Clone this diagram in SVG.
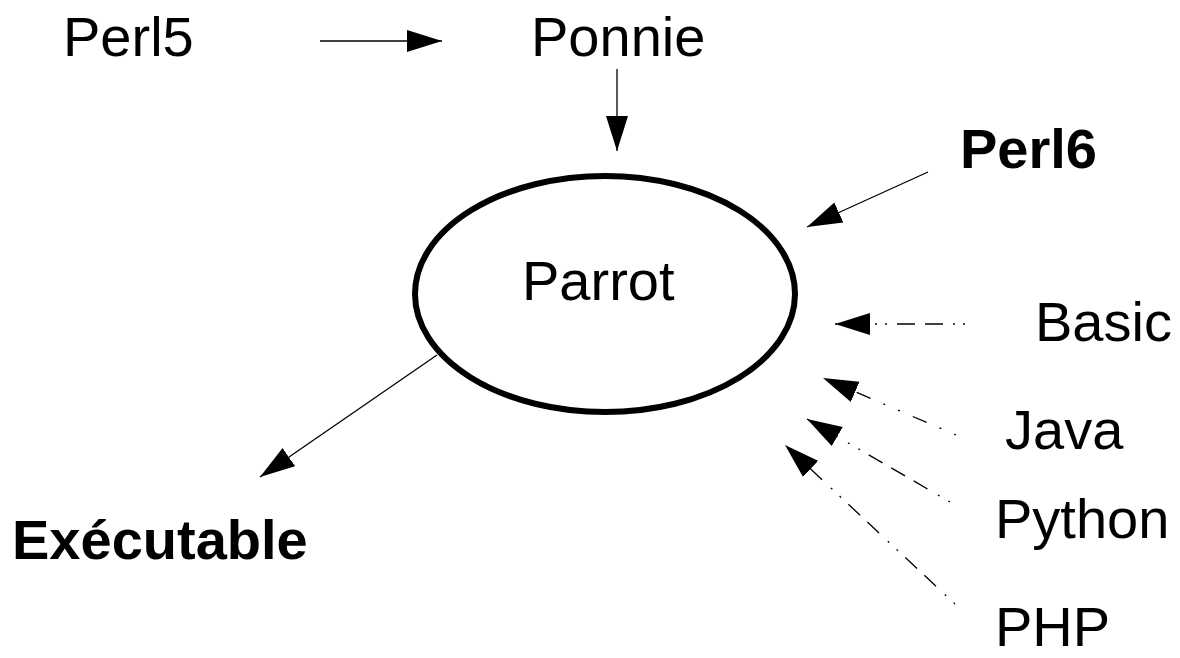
<svg xmlns="http://www.w3.org/2000/svg" width="1180" height="658" viewBox="0 0 1180 658">
<style>
text{font-family:"Liberation Sans",Arial,sans-serif;font-size:56px;fill:#000}
.b{font-weight:bold}
.c{stroke:#000;stroke-width:1.3;fill:none}
</style>
<defs>
<marker id="ah" markerUnits="userSpaceOnUse" markerWidth="36" markerHeight="24" viewBox="0 0 36 24" refX="35" refY="12" orient="auto">
<path d="M0,1 L35,12 L0,23 z" fill="#000"/>
</marker>
</defs>
<rect width="1180" height="658" fill="#fff"/>
<g id="parrot">
<ellipse cx="605" cy="294" rx="190" ry="118" fill="none" stroke="#000" stroke-width="6"/>
<text x="522" y="300">Parrot</text>
</g>
<g id="perl5"><text x="63" y="56">Perl5</text></g>
<g id="ponnie"><text x="531" y="56">Ponnie</text></g>
<g id="perl6"><text class="b" x="960" y="168">Perl6</text></g>
<g id="basic"><text x="1035" y="341">Basic</text></g>
<g id="java"><text x="1005" y="449">Java</text></g>
<g id="python"><text x="995" y="538">Python</text></g>
<g id="php"><text x="995" y="646">PHP</text></g>
<g id="executable"><text class="b" x="12" y="559">Exécutable</text></g>
<g id="connectors">
<line class="c" x1="320" y1="41" x2="442" y2="41" marker-end="url(#ah)"/>
<line class="c" x1="617" y1="69" x2="617" y2="151" marker-end="url(#ah)"/>
<line class="c" x1="928" y1="172" x2="807" y2="227" marker-end="url(#ah)"/>
<line class="c" x1="437" y1="355" x2="260" y2="477" marker-end="url(#ah)"/>
<line class="c" x1="965" y1="324" x2="835" y2="324" stroke-dasharray="2 8 2 10 18 10 18 10" marker-end="url(#ah)"/>
<line class="c" x1="956" y1="435" x2="823" y2="378" stroke-dasharray="2 14 2 14 15 14" marker-end="url(#ah)"/>
<line class="c" x1="950" y1="502" x2="807" y2="419" stroke-dasharray="2 10 2 12 16 10 16 10 16 10" marker-end="url(#ah)"/>
<line class="c" x1="955" y1="604" x2="785" y2="445" stroke-dasharray="2 10 2 12 16 10 16 10" marker-end="url(#ah)"/>
</g>
</svg>
